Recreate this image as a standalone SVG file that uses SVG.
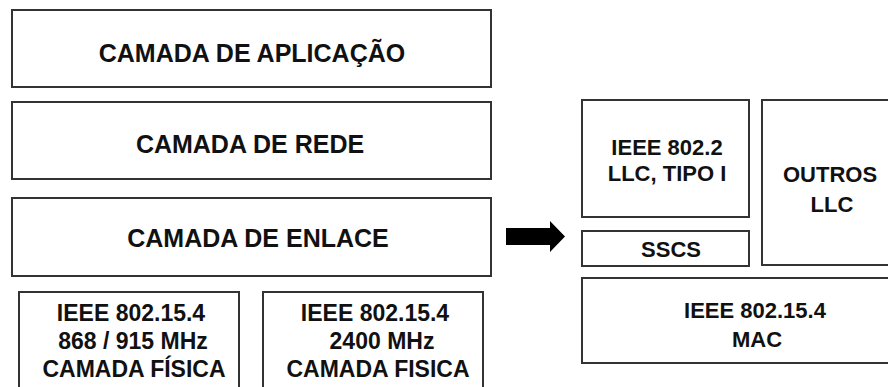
<svg xmlns="http://www.w3.org/2000/svg" width="888" height="387" viewBox="0 0 888 387">
<style>
.box{fill:#fff;stroke:#333;stroke-width:2}
.t1{font-family:"Liberation Sans",Arial,sans-serif;font-weight:bold;font-size:25px;fill:#111;text-anchor:middle}
.t2{font-family:"Liberation Sans",Arial,sans-serif;font-weight:bold;font-size:23px;fill:#111;text-anchor:middle}
.t3{font-family:"Liberation Sans",Arial,sans-serif;font-weight:bold;font-size:22px;fill:#111;text-anchor:middle}
</style>
<rect width="888" height="387" fill="#fff"/>
<g id="app"><rect class="box" x="12" y="10" width="479" height="77"/><text class="t1" x="252" y="62">CAMADA DE APLICAÇÃO</text></g>
<g id="rede"><rect class="box" x="12" y="102" width="479" height="77"/><text class="t1" x="250" y="153">CAMADA DE REDE</text></g>
<g id="enlace"><rect class="box" x="12" y="198" width="479" height="78"/><text class="t1" x="258" y="247">CAMADA DE ENLACE</text></g>
<g id="fis1"><rect class="box" x="19" y="292" width="220" height="110"/>
<text class="t2" x="131" y="321">IEEE 802.15.4</text><text class="t2" x="133" y="349">868 / 915 MHz</text><text class="t2" x="134" y="377">CAMADA FÍSICA</text></g>
<g id="fis2"><rect class="box" x="263" y="292" width="220" height="110"/>
<text class="t2" x="375" y="321">IEEE 802.15.4</text><text class="t2" x="382" y="349">2400 MHz</text><text class="t2" x="378" y="377">CAMADA FISICA</text></g>
<g id="llc1"><rect class="box" x="582" y="100" width="167" height="117"/>
<text class="t3" x="667" y="155">IEEE 802.2</text><text class="t3" x="667" y="181">LLC, TIPO I</text></g>
<g id="sscs"><rect class="box" x="582" y="231" width="167" height="35"/><text class="t3" x="671" y="257">SSCS</text></g>
<g id="outros"><rect class="box" x="762" y="100" width="140" height="165"/>
<text class="t3" x="830" y="182">OUTROS</text><text class="t3" x="832" y="212">LLC</text></g>
<g id="mac"><rect class="box" x="582" y="278" width="320" height="85"/>
<text class="t3" x="755" y="318">IEEE 802.15.4</text><text class="t3" x="757" y="347">MAC</text></g>
<g id="connectors"><polygon points="506,228 550,228 550,221 565,236.5 550,252 550,245 506,245" fill="#000"/></g>
</svg>
